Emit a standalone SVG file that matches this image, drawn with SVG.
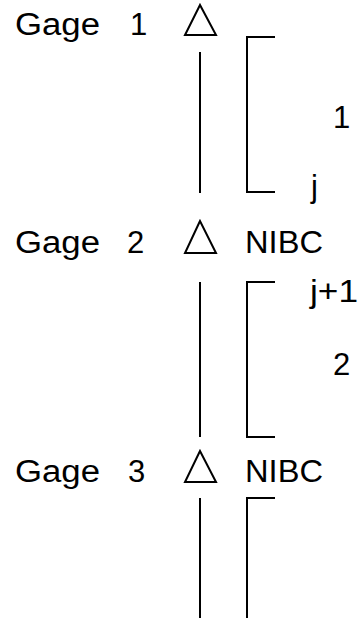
<svg xmlns="http://www.w3.org/2000/svg" width="361" height="622" viewBox="0 0 361 622">
<style>
text{font-family:"Liberation Sans",Arial,sans-serif;font-size:31px;fill:#000}
.tri{fill:none;stroke:#000;stroke-width:2}
.ln{fill:none;stroke:#000;stroke-width:2}
</style>
<rect width="361" height="622" fill="#fff"/>
<g id="gage1">
<text x="15" y="35" textLength="85" lengthAdjust="spacingAndGlyphs">Gage</text>
<text x="130" y="35">1</text>
<polygon class="tri" points="200,5 185,35 216,35"/>
</g>
<g id="gage2">
<text x="15" y="253" textLength="85" lengthAdjust="spacingAndGlyphs">Gage</text>
<text x="127" y="253">2</text>
<polygon class="tri" points="200,221 185,253 216,253"/>
<text x="245" y="253" textLength="78" lengthAdjust="spacingAndGlyphs">NIBC</text>
</g>
<g id="gage3">
<text x="15" y="482" textLength="85" lengthAdjust="spacingAndGlyphs">Gage</text>
<text x="128" y="482">3</text>
<polygon class="tri" points="200,451 185,482 216,482"/>
<text x="245" y="482" textLength="78" lengthAdjust="spacingAndGlyphs">NIBC</text>
</g>
<g id="reach1">
<path class="ln" d="M275,37 H247 V192 H275"/>
<text x="333" y="128">1</text>
<text x="311" y="197">j</text>
</g>
<g id="reach2">
<path class="ln" d="M275,282 H247 V437 H275"/>
<text x="310" y="302" textLength="48" lengthAdjust="spacingAndGlyphs">j+1</text>
<text x="333" y="375">2</text>
</g>
<g id="reach3">
<path class="ln" d="M275,498 H247 V618"/>
</g>
<g id="connectors">
<line class="ln" x1="200" y1="52" x2="200" y2="193"/>
<line class="ln" x1="200" y1="282" x2="200" y2="437"/>
<line class="ln" x1="200" y1="498" x2="200" y2="618"/>
</g>
</svg>
